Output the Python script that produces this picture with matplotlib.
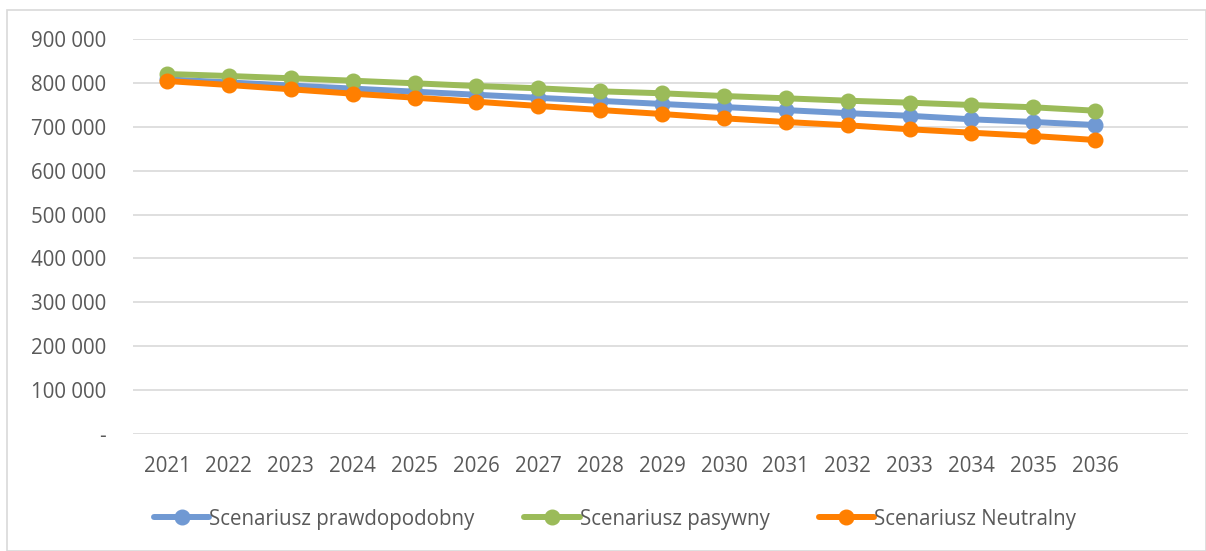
import matplotlib
matplotlib.use("Agg")
import matplotlib.pyplot as plt
from matplotlib.patches import Rectangle
from matplotlib.ticker import FuncFormatter

# --- dane ---
lata = [str(r) for r in range(2021, 2037)]
prawdopodobny = [808000, 801000, 794000, 787000, 780000, 773000, 766000, 759000,
                 752000, 745000, 738000, 731000, 725000, 717000, 711000, 704000]
pasywny = [820300, 815700, 810500, 805000, 799100, 792900, 787700, 780800,
           776300, 770100, 764900, 759400, 754900, 749600, 744400, 736600]
neutralny = [804300, 795200, 785400, 775400, 766300, 757100, 747400, 738200,
             729100, 719300, 710900, 703400, 694300, 686500, 679000, 669900]

serie = [
    ("Scenariusz prawdopodobny", prawdopodobny, "#7099D3"),
    ("Scenariusz pasywny", pasywny, "#9BBB59"),
    ("Scenariusz Neutralny", neutralny, "#FF7F00"),
]

plt.rcParams['font.family'] = ['Open Sans', 'DejaVu Sans']
TXT = "#595959"
FS = 14.8

fig = plt.figure(figsize=(12.06, 5.51), dpi=100)
fig.patches.append(Rectangle((7 / 1206, 0), 1 - 7 / 1206, 1 - 10 / 551,
                             transform=fig.transFigure, fill=False,
                             edgecolor="#D9D9D9", linewidth=1.2))

ax = fig.add_axes([133 / 1206, 117 / 551, 1055 / 1206, 395 / 551])
x = list(range(len(lata)))
for nazwa, wartosci, kolor in serie:
    ax.plot(x, wartosci, color=kolor, linewidth=4.3, marker="o",
            markersize=10.5, label=nazwa, solid_capstyle="round")

ax.set_ylim(0, 900000)
ax.set_xlim(-0.55, 16.5)
ax.set_yticks(range(0, 900001, 100000))
ax.yaxis.set_major_formatter(FuncFormatter(
    lambda v, p: "-" if v == 0 else f"{int(v):,}".replace(",", " ")))
ax.set_xticks(x)
ax.set_xticklabels(lata)
ax.grid(axis="y", color="#D9D9D9", linewidth=1.2)
ax.set_axisbelow(True)
for s in ax.spines.values():
    s.set_visible(False)
ax.tick_params(axis="both", length=0, labelsize=FS, labelcolor=TXT)
ax.tick_params(axis="y", pad=19.5)
ax.tick_params(axis="x", pad=16)

fig.legend(loc="center", bbox_to_anchor=(615 / 1206, 1 - 519 / 551), ncol=3,
           frameon=False, fontsize=FS, handlelength=2.7, handletextpad=0.0,
           columnspacing=2.4, labelcolor=TXT)

fig.savefig("out.png", dpi=100)
